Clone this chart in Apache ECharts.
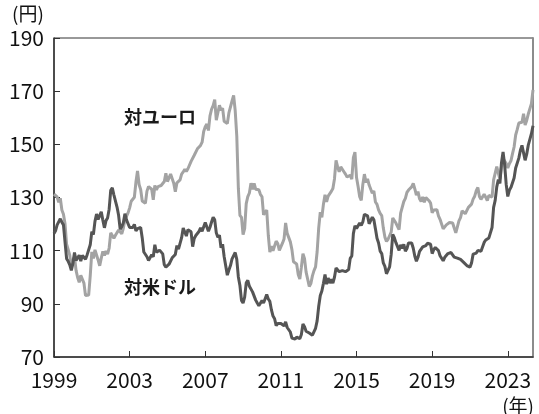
<!DOCTYPE html>
<html>
<head>
<meta charset="utf-8">
<script src="https://cdn.jsdelivr.net/npm/echarts@6/dist/echarts.min.js"></script>
<style>
  html, body { margin: 0; padding: 0; background: #fff; }
  #chart { width: 539px; height: 414px; }
</style>
</head>
<body>
<div id="chart"></div>
<script>
// 月次データ 1999年1月〜2024年5月
var startYear = 1999;

// 対米ドル (円)
var usd = [
  116.5, 117.5, 119.7, 119.7, 122.0, 120.7, 119.7, 113.2, 107.0, 106.0, 104.7, 102.6, // 1999
  105.2, 109.3, 106.3, 105.6, 108.3, 106.1, 108.2, 108.1, 106.8, 108.4, 108.9, 112.2, // 2000
  117.1, 116.1, 121.0, 123.8, 121.8, 122.2, 124.6, 121.5, 118.6, 121.3, 122.3, 125.6, // 2001
  132.7, 133.6, 131.0, 130.8, 126.4, 123.3, 118.1, 119.0, 120.5, 123.9, 121.6, 121.9, // 2002
  118.7, 119.3, 118.7, 119.9, 117.4, 118.3, 118.7, 118.7, 114.8, 109.5, 109.2, 107.7, // 2003
  106.3, 106.7, 108.5, 107.7, 112.2, 109.4, 109.4, 110.2, 110.0, 108.8, 104.7, 103.8, // 2004
  103.3, 104.9, 105.3, 107.3, 106.8, 108.6, 111.9, 110.6, 111.2, 114.9, 118.5, 118.5, // 2005
  115.5, 117.9, 117.3, 117.1, 111.5, 114.6, 115.7, 115.9, 117.2, 118.6, 117.3, 117.3, // 2006
  120.6, 120.5, 117.3, 118.8, 120.8, 122.6, 121.6, 116.7, 115.0, 115.8, 111.1, 112.4, // 2007
  107.7, 107.1, 100.8, 102.7, 104.4, 106.9, 106.9, 109.3, 106.7, 100.1, 96.9, 91.3,    // 2008
  90.3, 92.5, 97.9, 98.8, 96.6, 96.6, 94.5, 94.9, 91.4, 90.3, 89.3, 89.6,              // 2009
  91.2, 90.3, 90.6, 93.5, 91.8, 90.9, 87.7, 85.4, 84.4, 81.8, 82.6, 83.3,              // 2010
  82.6, 82.6, 81.7, 83.2, 81.1, 80.5, 79.4, 77.1, 76.8, 76.7, 77.5, 77.8,              // 2011
  76.9, 78.5, 82.4, 81.4, 79.7, 79.3, 79.0, 78.7, 78.2, 78.9, 80.8, 83.6,              // 2012
  89.1, 93.1, 94.8, 97.7, 101.0, 97.4, 99.7, 97.8, 99.2, 97.8, 100.0, 103.5,           // 2013
  103.9, 102.1, 102.3, 102.5, 101.8, 102.1, 101.7, 102.9, 107.1, 108.0, 116.4, 119.4, // 2014
  118.3, 118.8, 120.4, 119.5, 120.8, 123.7, 123.3, 123.1, 120.1, 120.1, 122.6, 121.6, // 2015
  118.2, 114.7, 112.9, 109.8, 108.9, 105.4, 104.1, 101.3, 102.0, 103.9, 108.6, 116.1, // 2016
  114.9, 113.0, 112.9, 110.1, 112.2, 110.9, 112.4, 109.8, 110.8, 112.9, 112.8, 112.9, // 2017
  110.9, 107.9, 106.0, 107.5, 109.7, 110.0, 111.4, 111.0, 111.9, 112.8, 113.4, 112.4, // 2018
  108.9, 110.4, 111.2, 111.6, 110.0, 108.1, 108.2, 106.2, 107.5, 108.1, 108.9, 109.1, // 2019
  109.3, 110.0, 107.6, 107.8, 107.2, 107.6, 106.7, 106.0, 105.6, 105.2, 104.4, 103.8, // 2020
  103.8, 105.4, 108.7, 109.1, 109.1, 110.1, 110.2, 109.8, 110.2, 113.1, 114.0, 113.8, // 2021
  114.8, 115.2, 118.7, 126.3, 128.9, 134.0, 136.7, 135.3, 143.1, 147.1, 142.3, 134.9, // 2022
  130.4, 132.7, 133.8, 133.6, 137.3, 141.1, 140.9, 144.8, 147.8, 149.6, 149.7, 144.0, // 2023
  146.3, 149.7, 149.8, 154.0, 157.0                                                   // 2024
];

// 対ユーロ (円)
var eur = [
  131.3, 130.8, 130.2, 128.2, 129.7, 125.3, 123.7, 120.1, 112.4, 113.0, 108.3, 103.7, // 1999
  106.5, 107.6, 102.6, 99.9, 98.1, 100.7, 101.4, 97.8, 93.1, 92.7, 93.3, 100.6,       // 2000
  109.6, 107.1, 110.3, 110.4, 106.5, 104.3, 107.2, 109.7, 108.2, 109.9, 108.7, 111.0, // 2001
  116.7, 116.2, 114.7, 115.8, 115.9, 117.8, 117.1, 116.3, 118.4, 121.6, 121.7, 124.2, // 2002
  126.1, 128.6, 128.2, 130.1, 135.8, 140.0, 134.9, 133.0, 128.7, 128.2, 127.8, 132.4, // 2003
  134.1, 134.8, 133.1, 129.1, 134.5, 132.9, 134.1, 134.5, 134.5, 135.0, 136.0, 139.1, // 2004
  136.0, 136.6, 138.8, 138.8, 135.4, 132.2, 135.5, 136.1, 136.6, 138.8, 139.6, 140.6, // 2005
  139.8, 140.8, 141.0, 143.6, 143.0, 145.9, 146.6, 148.3, 148.6, 149.6, 150.8, 154.8, // 2006
  156.6, 157.6, 155.2, 160.7, 163.2, 164.6, 166.8, 159.1, 159.4, 164.7, 162.8, 163.6, // 2007
  158.7, 158.2, 157.8, 161.8, 162.1, 166.3, 168.4, 162.7, 153.2, 133.5, 123.3, 122.5, // 2008
  116.0, 118.3, 127.7, 130.3, 131.7, 135.4, 133.1, 135.3, 133.1, 133.1, 132.9, 131.2, // 2009
  130.3, 123.5, 123.0, 125.3, 115.8, 109.5, 111.7, 110.0, 110.3, 113.6, 112.7, 110.1, // 2010
  110.4, 112.8, 114.4, 120.4, 116.5, 116.0, 113.3, 110.4, 105.8, 105.1, 105.0, 101.0, // 2011
  99.3, 103.8, 108.9, 107.0, 101.9, 99.3, 96.5, 97.6, 100.5, 102.5, 103.9, 109.6,     // 2012
  118.6, 124.5, 122.5, 127.5, 131.0, 128.4, 130.5, 130.3, 132.3, 133.4, 137.0, 144.0, // 2013
  141.5, 139.7, 141.5, 141.6, 139.7, 138.8, 137.7, 137.1, 138.4, 136.9, 145.0, 147.1, // 2014
  137.5, 134.1, 130.3, 128.9, 134.9, 138.8, 135.7, 137.0, 134.7, 134.8, 131.6, 132.5, // 2015
  128.3, 127.4, 125.3, 124.0, 123.2, 118.5, 115.1, 113.5, 114.3, 114.5, 117.0, 122.3, // 2016
  122.0, 120.4, 120.6, 117.9, 124.1, 124.6, 128.5, 129.7, 131.9, 132.8, 132.4, 134.0, // 2017
  135.3, 133.2, 130.9, 132.2, 129.5, 128.5, 130.2, 128.2, 130.0, 129.6, 128.8, 127.9, // 2018
  124.3, 125.3, 125.7, 125.4, 123.1, 121.8, 121.4, 118.2, 118.2, 119.7, 120.3, 120.6, // 2019
  120.9, 120.4, 118.5, 116.7, 116.0, 121.2, 122.4, 125.0, 124.3, 123.9, 123.6, 126.3, // 2020
  126.3, 127.5, 129.4, 130.5, 132.6, 133.8, 130.4, 129.3, 129.8, 131.2, 130.1, 128.8, // 2021
  130.8, 130.7, 130.1, 136.6, 136.2, 141.6, 139.2, 136.9, 141.6, 144.7, 145.1, 142.8, // 2022
  141.1, 142.7, 143.8, 146.5, 149.0, 153.5, 155.6, 158.0, 157.4, 158.3, 161.5, 157.3, // 2023
  159.0, 161.4, 162.0, 165.3, 170.5                                                   // 2024
];

var yTicks = [70, 90, 110, 130, 150, 170, 190];

function toPoints(arr) {
  return arr.map(function (v, i) { return [i / 12, v]; });
}

var font = 'Noto Sans CJK JP';
var lastX = (usd.length - 1) / 12;

var myChart = echarts.init(document.getElementById('chart'));
var option = {
  animation: false,
  textStyle: { fontFamily: font },
  grid: {
    left: 54, right: 6, top: 38, bottom: 57,
    show: true,
    borderColor: '#333',
    borderWidth: 1
  },
  xAxis: {
    type: 'value',
    min: 0,
    max: lastX,
    interval: 4,
    splitLine: { show: false },
    axisLine: { lineStyle: { color: '#333', width: 1.5 } },
    axisTick: { inside: true, length: 6, lineStyle: { color: '#333' } },
    axisLabel: {
      color: '#111', fontSize: 21, margin: 13, fontFamily: font,
      showMaxLabel: false,
      formatter: function (v) {
        return Math.abs(v % 4) < 1e-6 ? String(startYear + v) : '';
      }
    }
  },
  yAxis: [{
    type: 'value',
    min: yTicks[0],
    max: yTicks[yTicks.length - 1],
    interval: 20,
    splitLine: { show: false },
    axisLine: { show: true, lineStyle: { color: '#333', width: 1.5 } },
    axisTick: { show: true, inside: true, length: 6, lineStyle: { color: '#333' } },
    axisLabel: { color: '#111', fontSize: 21, margin: 10, fontFamily: font }
  }, {
    type: 'value',
    position: 'right',
    min: yTicks[0],
    max: yTicks[yTicks.length - 1],
    splitLine: { show: false },
    axisLine: { show: true, lineStyle: { color: '#8c8c8c', width: 2 } },
    axisTick: { show: false },
    axisLabel: { show: false }
  }],
  series: [
    {
      name: '対ユーロ',
      type: 'line',
      showSymbol: false,
      data: toPoints(eur),
      lineStyle: { color: '#a3a3a3', width: 3 },
      itemStyle: { color: '#a3a3a3' },
      z: 2
    },
    {
      name: '対米ドル',
      type: 'line',
      showSymbol: false,
      data: toPoints(usd),
      lineStyle: { color: '#555555', width: 3 },
      itemStyle: { color: '#555555' },
      z: 3
    }
  ],
  graphic: [
    { type: 'text', left: 12, top: 4, style: { text: '(円)', fontSize: 19, fill: '#111', fontFamily: font } },
    { type: 'text', right: 5, top: 396, style: { text: '(年)', fontSize: 19, fill: '#111', fontFamily: font } },
    { type: 'text', x: 160, y: 117, style: { text: '対ユーロ', fontSize: 18, fontWeight: 'bold', fill: '#1a1a1a', fontFamily: font, align: 'center', verticalAlign: 'middle' } },
    { type: 'text', x: 160, y: 287, style: { text: '対米ドル', fontSize: 18, fontWeight: 'bold', fill: '#1a1a1a', fontFamily: font, align: 'center', verticalAlign: 'middle' } }
  ]
};
myChart.setOption(option);
</script>
</body>
</html>
